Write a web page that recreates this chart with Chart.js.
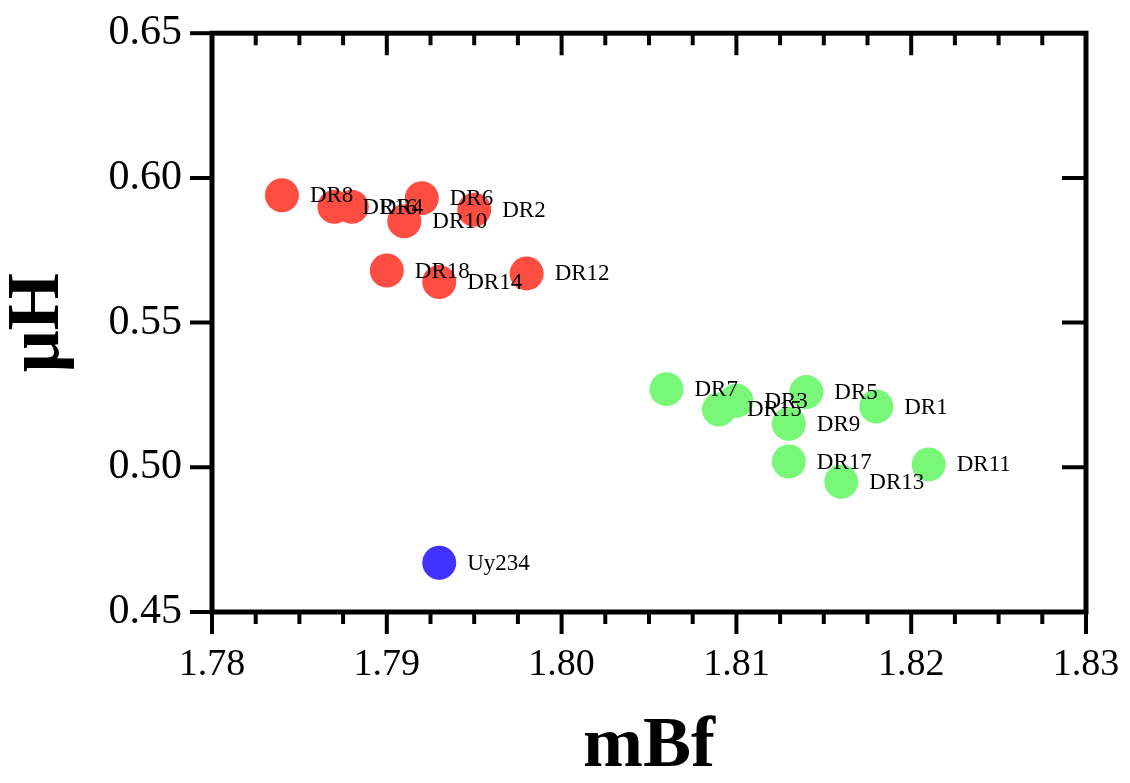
<!DOCTYPE html>
<html>
<head>
<meta charset="utf-8">
<script src="https://cdn.jsdelivr.net/npm/chart.js@4.4.1/dist/chart.umd.min.js"></script>
<style>
  html, body { margin: 0; background: #fff; }
  #wrap { width: 1130px; height: 783px; }
</style>
</head>
<body>
<div id="wrap"><canvas id="chart"></canvas></div>
<script>
// even samples (red group)
const redNames = ['DR8', 'DR16', 'DR4', 'DR6', 'DR10', 'DR2', 'DR18', 'DR14', 'DR12'];
const redX = [1.784, 1.787, 1.788, 1.792, 1.791, 1.795, 1.790, 1.793, 1.798];
const redY = [0.594, 0.590, 0.590, 0.593, 0.585, 0.589, 0.568, 0.564, 0.567];

// odd samples (green group)
const greenNames = ['DR7', 'DR15', 'DR3', 'DR5', 'DR1', 'DR9', 'DR17', 'DR13', 'DR11'];
const greenX = [1.806, 1.809, 1.810, 1.814, 1.818, 1.813, 1.813, 1.816, 1.821];
const greenY = [0.527, 0.520, 0.523, 0.526, 0.521, 0.515, 0.502, 0.495, 0.501];

// reference
const blueNames = ['Uy234'];
const blueX = [1.793];
const blueY = [0.467];

const xTicks = ['1.78', '1.79', '1.80', '1.81', '1.82', '1.83'];
const yTicks = ['0.45', '0.50', '0.55', '0.60', '0.65'];

const toPoints = (xs, ys) => xs.map((x, i) => ({ x: x, y: ys[i] }));
const serif = "'Liberation Serif', 'Times New Roman', serif";

// names next to each dot
const pointLabels = {
  id: 'pointLabels',
  afterDatasetsDraw(chart) {
    const ctx = chart.ctx;
    ctx.save();
    ctx.font = '23px ' + serif;
    ctx.fillStyle = '#000';
    ctx.textBaseline = 'middle';
    chart.data.datasets.forEach((ds, di) => {
      chart.getDatasetMeta(di).data.forEach((pt, i) => {
        ctx.fillText(ds.names[i], pt.x + 28, pt.y + 1);
      });
    });
    ctx.restore();
  }
};

// box frame + tick marks (major/minor on x, mirrored inside on top/right)
const frame = {
  id: 'frame',
  afterDraw(chart) {
    const { ctx, chartArea: a, scales } = chart;
    ctx.save();
    ctx.strokeStyle = '#000';
    ctx.lineCap = 'butt';
    ctx.lineWidth = 4;
    scales.x.ticks.forEach((t, i) => {
      const px = scales.x.getPixelForValue(t.value);
      const len = i % 4 === 0 ? 22 : 12;
      ctx.beginPath();
      ctx.moveTo(px, a.bottom); ctx.lineTo(px, a.bottom + len);
      ctx.moveTo(px, a.top); ctx.lineTo(px, a.top + len);
      ctx.stroke();
    });
    scales.y.ticks.forEach((t, i) => {
      const py = scales.y.getPixelForValue(t.value);
      ctx.beginPath();
      ctx.moveTo(a.left - 22, py); ctx.lineTo(a.left, py);
      if (i > 0 && i < scales.y.ticks.length - 1) {
        ctx.moveTo(a.right - 24, py); ctx.lineTo(a.right, py);
      }
      ctx.stroke();
    });
    ctx.lineWidth = 5;
    ctx.strokeRect(a.left, a.top, a.right - a.left, a.bottom - a.top);
    ctx.restore();
  }
};

new Chart(document.getElementById('chart'), {
  type: 'scatter',
  data: {
    datasets: [
      { names: redNames, data: toPoints(redX, redY), backgroundColor: '#ff4d42' },
      { names: greenNames, data: toPoints(greenX, greenY), backgroundColor: '#79f779' },
      { names: blueNames, data: toPoints(blueX, blueY), backgroundColor: '#4033ff' }
    ]
  },
  options: {
    responsive: true,
    maintainAspectRatio: false,
    animation: false,
    layout: { padding: { left: 0, right: 44, top: 28, bottom: 0 } },
    elements: { point: { radius: 17, hoverRadius: 17, borderWidth: 0 } },
    plugins: { legend: { display: false }, tooltip: { enabled: false } },
    scales: {
      x: {
        type: 'linear',
        min: 1.78,
        max: 1.83,
        afterFit: (s) => { s.height = 171; },
        grid: { color: 'transparent', drawOnChartArea: false, tickLength: 22 },
        border: { display: false },
        ticks: {
          stepSize: 0.0025,
          padding: 8,
          maxRotation: 0,
          autoSkip: false,
          color: '#000',
          font: { family: serif, size: 38 },
          callback: (v, i) => (i % 4 === 0 ? xTicks[i / 4] : '')
        },
        title: {
          display: true,
          text: 'mBf',
          color: '#000',
          padding: { top: 0, bottom: 0 },
          font: { family: serif, size: 72, weight: 'bold', lineHeight: 1 }
        }
      },
      y: {
        type: 'linear',
        min: 0.45,
        max: 0.65,
        afterFit: (s) => { s.width = 212; },
        grid: { color: 'transparent', drawOnChartArea: false, tickLength: 22 },
        border: { display: false },
        ticks: {
          stepSize: 0.05,
          padding: 8,
          color: '#000',
          font: { family: serif, size: 42 },
          callback: (v, i) => yTicks[i]
        },
        title: {
          display: true,
          text: 'μH',
          color: '#000',
          padding: { top: 2, bottom: 0 },
          font: { family: serif, size: 74, weight: 'bold', lineHeight: 1 }
        }
      }
    }
  },
  plugins: [pointLabels, frame]
});
</script>
</body>
</html>
